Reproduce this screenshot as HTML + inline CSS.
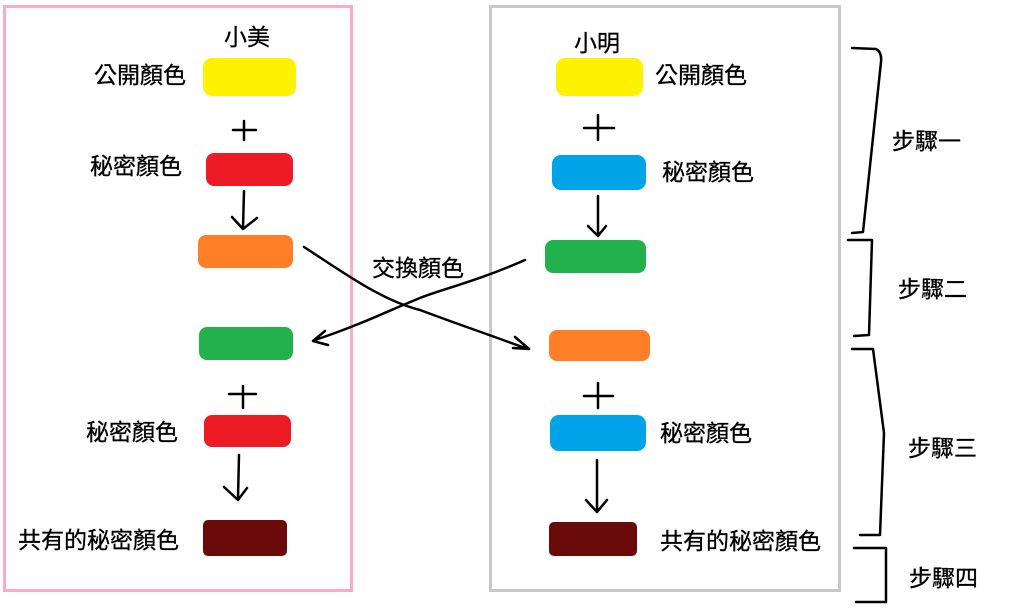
<!DOCTYPE html><html><head><meta charset="utf-8"><style>
body{margin:0;width:1024px;height:610px;background:#fff;overflow:hidden}
svg text{font-family:"Liberation Sans","Noto Sans CJK TC",sans-serif;font-size:23px;fill:#000;stroke:#000;stroke-width:0.3}
</style></head><body>
<svg width="1024" height="610" viewBox="0 0 1024 610">
<rect x="4.5" y="6.5" width="347" height="584" fill="none" stroke="#ffa8c8" stroke-width="3"/>
<rect x="490.5" y="6.5" width="349" height="584" fill="none" stroke="#c8c8c8" stroke-width="3"/>
<g>
<rect x="203" y="58" width="93" height="38" rx="9" fill="#fff200"/>
<rect x="206" y="153" width="87" height="33" rx="8" fill="#ed1c24"/>
<rect x="198" y="235" width="95" height="33" rx="8" fill="#ff7f27"/>
<rect x="199" y="327" width="94" height="33" rx="8" fill="#22b14c"/>
<rect x="204" y="415" width="87" height="32" rx="8" fill="#ed1c24"/>
<rect x="203" y="520" width="84" height="36" rx="5" fill="#6b0a0a"/>
<rect x="556" y="58" width="87" height="38" rx="9" fill="#fff200"/>
<rect x="552" y="155" width="94" height="35" rx="9" fill="#00a2e8"/>
<rect x="545" y="240" width="101" height="33" rx="8" fill="#22b14c"/>
<rect x="549" y="330" width="101" height="31" rx="8" fill="#ff7f27"/>
<rect x="550" y="415" width="96" height="36" rx="9" fill="#00a2e8"/>
<rect x="549" y="522" width="88" height="34" rx="5" fill="#6b0a0a"/>
</g>
<g fill="none" stroke="#000" stroke-width="2.5" stroke-linecap="round" stroke-linejoin="round">
<path d="M233 130 H256 M244 121 V140"/>
<path d="M584 128 H614 M598 115 V140"/>
<path d="M229 394 H256 M243 386 V408"/>
<path d="M584 396 H613 M598 383 V408"/>
<path d="M244 191 L243 228 M232 217 L243 229 L257 218"/>
<path d="M598 196 V236 M588 226 L598 236 L606 226"/>
<path d="M239 455 L238 498 M224 487 L238 500 L247 488"/>
<path d="M597 460 V510 M586 500 L597 512 L607 500"/>
<path d="M304 247 C340 270 380 300 420 310 C460 325 490 335 525 348 M515 337 L529 349 L513 348"/>
<path d="M525 260 C480 280 440 290 420 298 C390 310 360 325 315 340 M325 331 L313 341 L328 345"/>
<path d="M852 48 L876 49 Q882 52 881 62 L863 232 L852 233"/>
<path d="M848 240 L872 240 L869 335 L854 336"/>
<path d="M852 349 L873 349 L884 433 L880 535 L860 535"/>
<path d="M854 548 L886 548 L886 602 L856 602"/>
</g>
<text x="224" y="45">小美</text>
<text x="94" y="83">公開顏色</text>
<text x="90" y="174">秘密顏色</text>
<text x="86" y="440">秘密顏色</text>
<text x="18" y="548">共有的秘密顏色</text>
<text x="574" y="51">小明</text>
<text x="655" y="83">公開顏色</text>
<text x="662" y="180">秘密顏色</text>
<text x="660" y="441">秘密顏色</text>
<text x="660" y="549">共有的秘密顏色</text>
<text x="372" y="276">交換顏色</text>
<text x="892" y="149">步驟一</text>
<text x="898" y="297">步驟二</text>
<text x="908" y="456">步驟三</text>
<text x="909" y="586">步驟四</text>
</svg>
</body></html>
